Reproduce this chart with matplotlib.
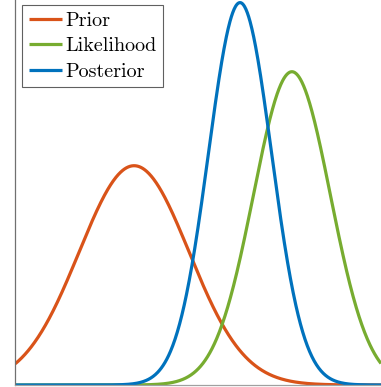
import numpy as np
import matplotlib
matplotlib.use("Agg")
import matplotlib.pyplot as plt

# Gaussian parameters (mean, standard deviation) of each density
prior_mean, prior_sd = 0.0, 1.0
like_mean, like_sd = 2.87, 0.70
series_labels = ["Prior", "Likelihood", "Posterior"]
series_colors = ["#D95319", "#77AC30", "#0072BD"]

# conjugate update: posterior of two Gaussians
post_prec = 1.0 / prior_sd**2 + 1.0 / like_sd**2
post_sd = np.sqrt(1.0 / post_prec)
post_mean = (prior_mean / prior_sd**2 + like_mean / like_sd**2) / post_prec

x_range = (-2.16, 4.49)
y_top = 0.7004


def normal_pdf(x, mu, sd):
    return np.exp(-0.5 * ((x - mu) / sd) ** 2) / (sd * np.sqrt(2 * np.pi))


x = np.linspace(x_range[0], x_range[1], 800)
densities = [
    normal_pdf(x, prior_mean, prior_sd),
    normal_pdf(x, like_mean, like_sd),
    normal_pdf(x, post_mean, post_sd),
]

W, H = 381, 387
fig = plt.figure(figsize=(W / 100, H / 100), dpi=100)
ax = fig.add_axes([15.3 / W, 2 / H, 1 - 15.3 / W, 385 / H])

for y, lab, col in zip(densities, series_labels, series_colors):
    ax.plot(x, y, color=col, lw=2.3, label=lab, solid_capstyle="butt")

ax.set_xlim(*x_range)
ax.set_ylim(0, y_top)
ax.set_xticks([])
ax.set_yticks([])
for s in ("top", "right"):
    ax.spines[s].set_visible(False)
ax.spines["left"].set_color("#707070")
ax.spines["left"].set_linewidth(0.9)
ax.spines["bottom"].set_color("#a0a0a0")
ax.spines["bottom"].set_linewidth(0.9)

leg = ax.legend(
    loc="upper left",
    bbox_to_anchor=(21.7 / W, 1 - 5 / H),
    bbox_transform=fig.transFigure,
    borderaxespad=0,
    prop={"family": "cmr10", "size": 14.5},
    handlelength=1.65,
    handletextpad=0.18,
    labelspacing=0.36,
    borderpad=0.34,
    fancybox=False,
    framealpha=1,
    edgecolor="#606060",
)
leg.get_frame().set_linewidth(0.8)

fig.savefig("out.png", dpi=100)
